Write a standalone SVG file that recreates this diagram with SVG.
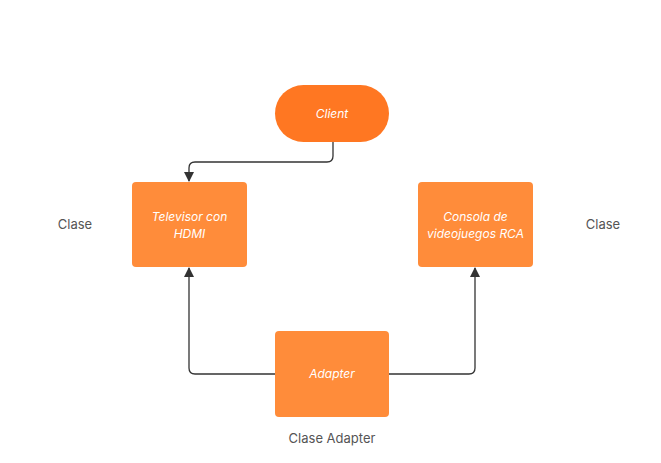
<svg xmlns="http://www.w3.org/2000/svg" width="661" height="463" viewBox="0 0 661 463">
<defs>
<marker id="arr" viewBox="0 0 10 10" refX="9" refY="5" markerWidth="10" markerHeight="10" markerUnits="userSpaceOnUse" orient="auto">
<path d="M0,0 L10,5 L0,10 z" fill="#333"/>
</marker>
<style>
.node{fill:#FF8C3A;}
.client{fill:#FF7722;}
.nt{font-family:Inter,"Liberation Sans",sans-serif;font-size:12px;font-style:italic;fill:#fff;text-anchor:middle;}
.lbl{font-family:Inter,"Liberation Sans",sans-serif;font-size:13px;fill:#555;text-anchor:middle;}
.edge{fill:none;stroke:#333;stroke-width:1.3;marker-end:url(#arr);}
</style>
</defs>
<rect width="661" height="463" fill="#fff"/>
<g id="connectors">
<path class="edge" d="M333,142 V156 Q333,162 327,162 H195 Q189,162 189,168 V181"/>
<path class="edge" d="M275,374 H195 Q189,374 189,368 V268"/>
<path class="edge" d="M389,374 H469 Q475,374 475,368 V268"/>
</g>
<g id="client">
<rect class="client" x="275" y="85" width="114" height="57" rx="28.5"/>
<text class="nt" x="332" y="118">Client</text>
</g>
<g id="televisor">
<rect class="node" x="132" y="182" width="115" height="85" rx="4"/>
<text class="nt" x="189.5" y="221">Televisor con</text>
<text class="nt" x="189.5" y="238">HDMI</text>
</g>
<g id="consola">
<rect class="node" x="418" y="182" width="115" height="85" rx="4"/>
<text class="nt" x="475.5" y="221">Consola de</text>
<text class="nt" x="475.5" y="238">videojuegos RCA</text>
</g>
<g id="adapter">
<rect class="node" x="275" y="331" width="114" height="86" rx="4"/>
<text class="nt" x="332" y="378">Adapter</text>
</g>
<g id="labels">
<text class="lbl" x="75" y="229">Clase</text>
<text class="lbl" x="603" y="229">Clase</text>
<text class="lbl" x="332" y="443">Clase Adapter</text>
</g>
</svg>
